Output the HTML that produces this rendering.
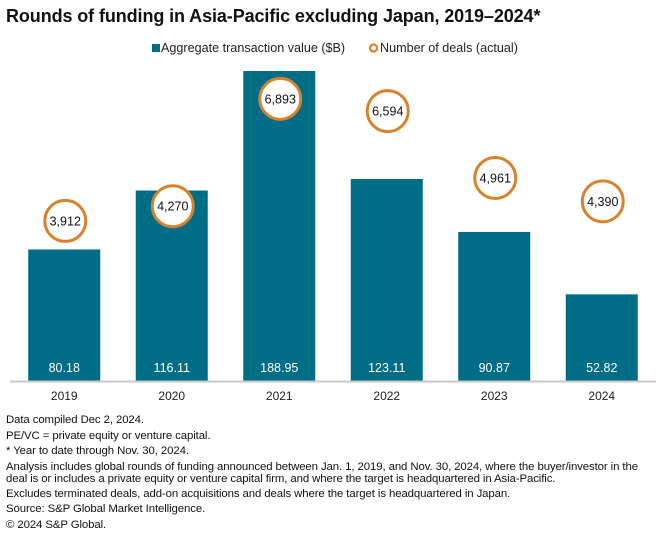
<!DOCTYPE html>
<html><head><meta charset="utf-8">
<style>
body{margin:0;background:#fff;width:660px;height:543px;overflow:hidden;font-family:"Liberation Sans",sans-serif;}
#title{position:absolute;left:6px;top:6px;font-size:18px;font-weight:bold;color:#111;letter-spacing:-0.1px;}
#notes{position:absolute;left:6px;top:413px;font-size:11.4px;color:#111;line-height:15.6px;letter-spacing:-0.1px;}
#notes div.two{line-height:12px;margin:1px 0 2px 0;}
svg{position:absolute;left:0;top:0;}
</style></head><body>
<div id="title">Rounds of funding in Asia-Pacific excluding Japan, 2019–2024*</div>
<svg id="chart" width="660" height="543"></svg>
<div id="notes">
<div>Data compiled Dec 2, 2024.</div>
<div>PE/VC = private equity or venture capital.</div>
<div>* Year to date through Nov. 30, 2024.</div>
<div class="two">Analysis includes global rounds of funding announced between Jan. 1, 2019, and Nov. 30, 2024, where the buyer/investor in the<br>deal is or includes a private equity or venture capital firm, and where the target is headquartered in Asia-Pacific.</div>
<div>Excludes terminated deals, add-on acquisitions and deals where the target is headquartered in Japan.</div>
<div>Source: S&amp;P Global Market Intelligence.</div>
<div>© 2024 S&amp;P Global.</div>
</div>
<script>
const categories=["2019","2020","2021","2022","2023","2024"];
const values=[80.18,116.11,188.95,123.11,90.87,52.82];
const valueLabels=["80.18","116.11","188.95","123.11","90.87","52.82"];
const deals=[3912,4270,6893,6594,4961,4390];
const dealLabels=["3,912","4,270","6,893","6,594","4,961","4,390"];

const NS="http://www.w3.org/2000/svg";
const svg=document.getElementById('chart');
const base=381, x0=10.5, step=107.5, bw=72;
const yBar=v=>base-v*(310/188.95);
const yDeal=d=>base-d*0.04093;
const xC=i=>x0+step*(i+0.5);
function mk(t,a,txt){const e=document.createElementNS(NS,t);for(const k in a)e.setAttribute(k,a[k]);if(txt!=null)e.textContent=txt;svg.appendChild(e);return e;}

let e=mk('rect',{x:152,y:44,width:8,height:8,fill:'#006d87'});


e=mk('text',{x:161,y:52,'font-size':12.6,fill:'#222'},'Aggregate transaction value ($B)');


e=mk('circle',{cx:373.5,cy:48,r:3.5,fill:'none',stroke:'#d9822b','stroke-width':2.2});


e=mk('text',{x:380,y:52,'font-size':12.6,fill:'#222'},'Number of deals (actual)');



categories.forEach((c,i)=>{
  const cx=xC(i), top=yBar(values[i]);
  let b=mk('rect',{x:cx-bw/2,y:top,width:bw,height:base-top,fill:'#006d87'});
  
  
  let t=mk('text',{x:cx,y:372,'text-anchor':'middle','font-size':12.5,fill:'#fff'},valueLabels[i]);
  
  
  const cy=yDeal(deals[i]);
  let ci=mk('circle',{cx:cx+1,cy:cy,r:20.5,fill:'#fff',stroke:'#d9822b','stroke-width':3});
  
  
  let dt=mk('text',{x:cx+1,y:cy+4.5,'text-anchor':'middle','font-size':12.5,fill:'#111'},dealLabels[i]);
  
  
  let xl=mk('text',{x:cx,y:400,'text-anchor':'middle','font-size':12,fill:'#222'},c);
  
  
});
e=mk('line',{x1:10,x2:656,y1:381.5,y2:381.5,stroke:'#c8c8c8','stroke-width':2});


</script>
</body></html>
